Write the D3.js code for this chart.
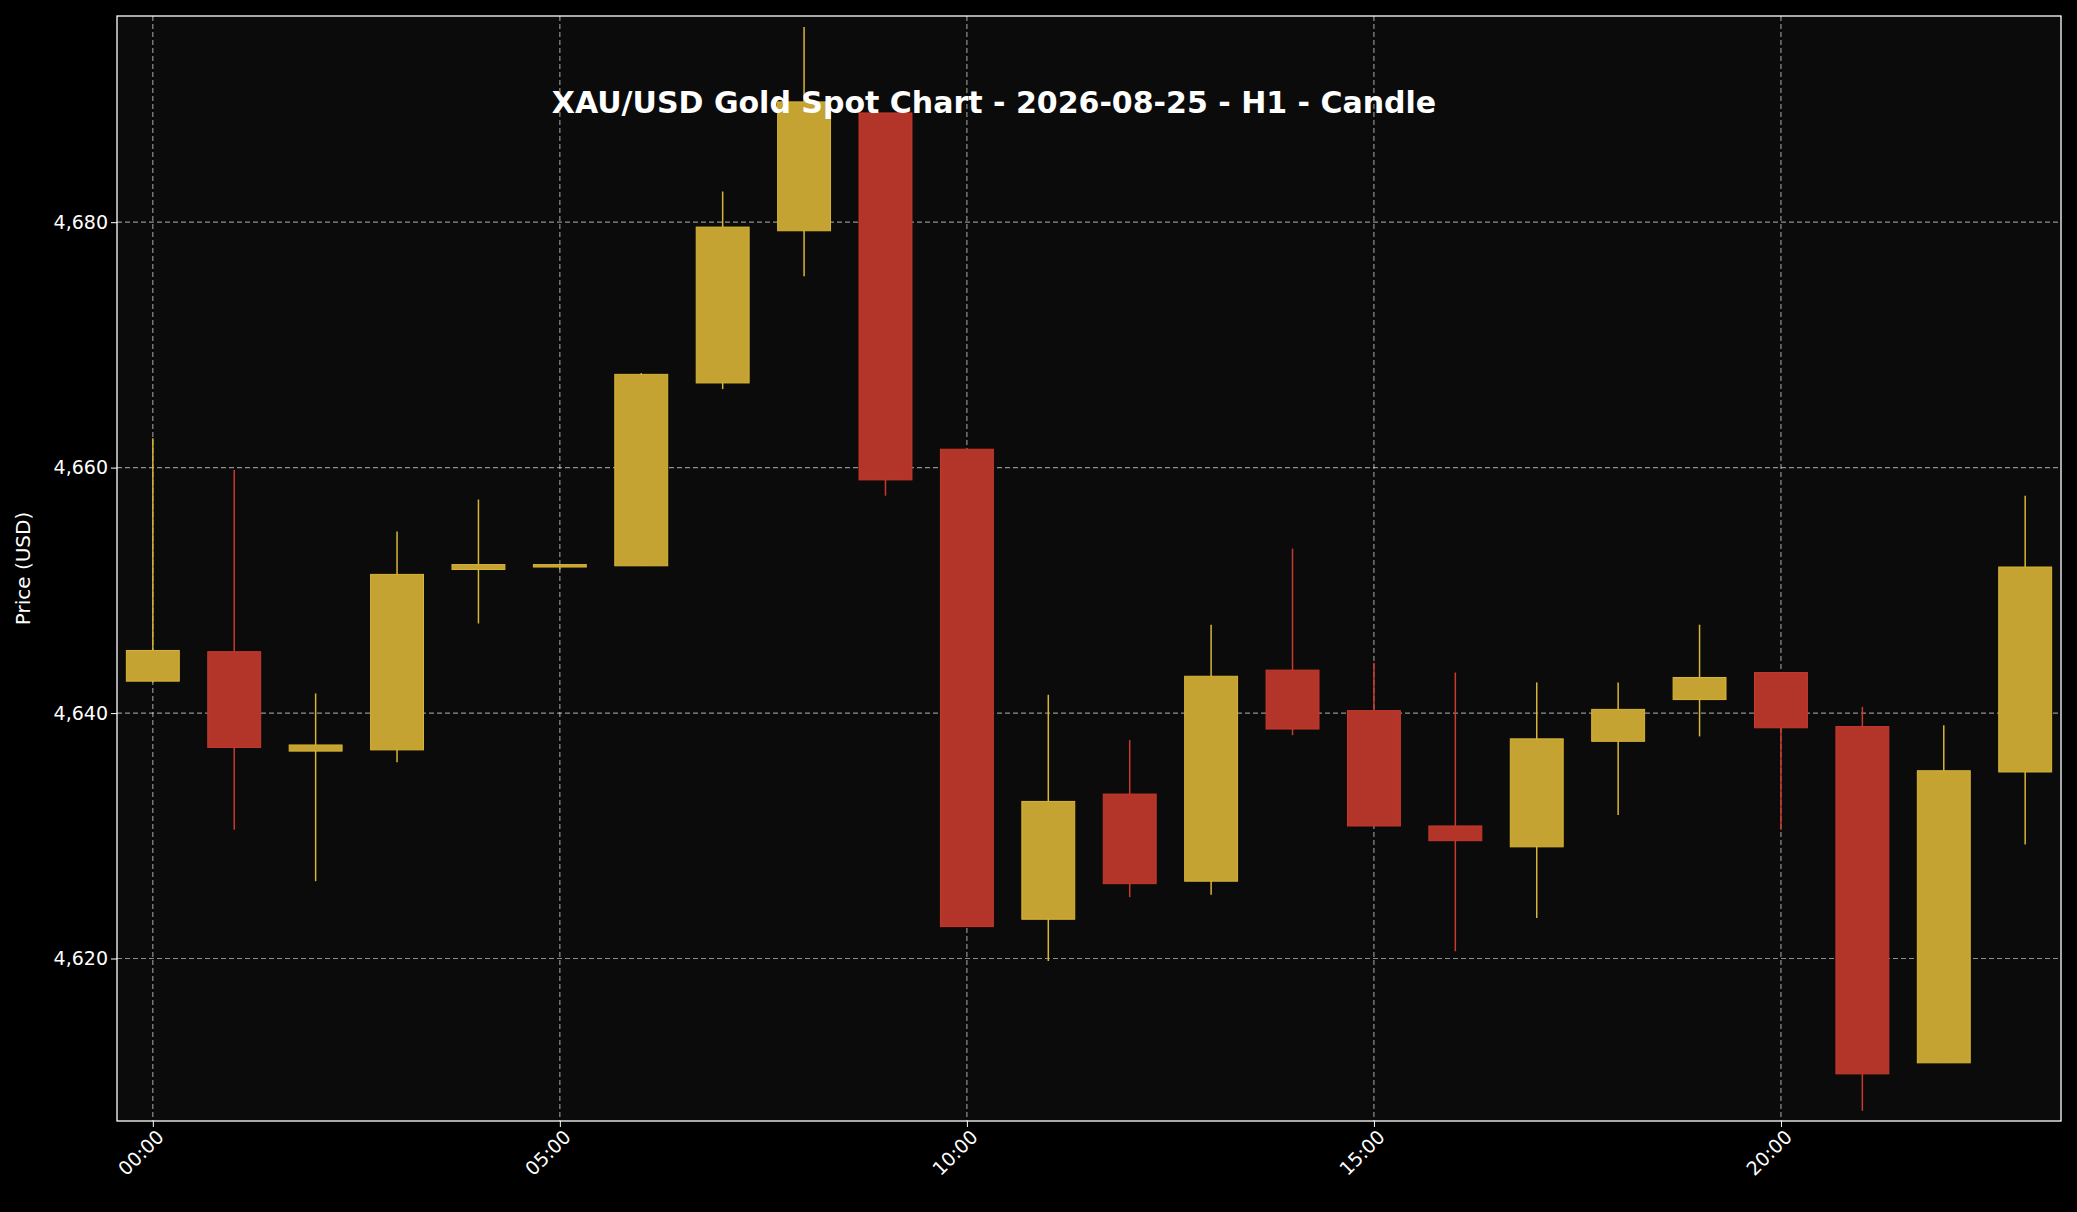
<!DOCTYPE html>
<html>
<head>
<meta charset="utf-8">
<script src="https://cdn.jsdelivr.net/npm/d3@7"></script>
<style>
  body { margin: 0; background: #000; }
  text { font-family: "DejaVu Sans", sans-serif; }
</style>
</head>
<body>
<div id="chart"></div>
<script>
// Hourly candles, 2026-08-25
const hours = d3.range(24);
const opens  = [4642.6, 4645.0, 4636.9, 4637.0, 4651.7, 4651.9, 4652.0, 4666.9, 4679.3, 4688.9, 4661.5, 4623.2,
                4633.4, 4626.3, 4643.5, 4640.2, 4630.8, 4629.1, 4637.7, 4641.1, 4643.3, 4638.9, 4611.5, 4635.2];
const highs  = [4662.4, 4659.8, 4641.6, 4654.8, 4657.4, 4652.1, 4667.7, 4682.5, 4695.9, 4688.9, 4661.5, 4641.5,
                4637.8, 4647.2, 4653.4, 4644.1, 4643.3, 4642.5, 4642.5, 4647.2, 4643.3, 4640.5, 4639.0, 4657.7];
const lows   = [4642.5, 4630.5, 4626.3, 4636.0, 4647.3, 4651.7, 4652.0, 4666.4, 4675.6, 4657.7, 4622.6, 4619.8,
                4625.0, 4625.2, 4638.2, 4630.8, 4620.6, 4623.3, 4631.7, 4638.1, 4630.5, 4607.6, 4611.5, 4629.3];
const closes = [4645.1, 4637.2, 4637.4, 4651.3, 4652.1, 4652.1, 4667.6, 4679.6, 4689.8, 4659.0, 4622.6, 4632.8,
                4626.1, 4643.0, 4638.7, 4630.8, 4629.6, 4637.9, 4640.3, 4642.9, 4638.8, 4610.6, 4635.3, 4651.9];
const xTicks = [0, 5, 10, 15, 20];
const yTicks = [4620, 4640, 4660, 4680];

const width = 2077, height = 1212;
const margin = { top: 16, right: 16, bottom: 91, left: 117 };

const svg = d3.select('#chart').append('svg')
    .attr('width', width).attr('height', height)
    .style('background', '#000');

const x = d3.scaleLinear().domain([-0.44, 23.44]).range([margin.left, width - margin.right]);
const y = d3.scaleLinear().domain([4606.76, 4696.8]).range([height - margin.bottom, margin.top]);

// Axes background
svg.append('rect')
    .attr('x', margin.left).attr('y', margin.top)
    .attr('width', width - margin.left - margin.right)
    .attr('height', height - margin.top - margin.bottom)
    .attr('fill', '#0b0b0b');

// Grid
const grid = svg.append('g').attr('stroke', '#fff').attr('stroke-opacity', 0.55)
    .attr('stroke-dasharray', '5,3').attr('stroke-width', 1.2);
xTicks.forEach(t => grid.append('line')
    .attr('x1', x(t)).attr('x2', x(t)).attr('y1', margin.top).attr('y2', height - margin.bottom));
yTicks.forEach(t => grid.append('line')
    .attr('x1', margin.left).attr('x2', width - margin.right).attr('y1', y(t)).attr('y2', y(t)));

// Candles
const data = hours.map(i => ({ h: i, o: opens[i], hi: highs[i], lo: lows[i], c: closes[i] }));
const gold = '#c4a332', red = '#b3352a';
const bw = x(0.65) - x(0);
const candles = svg.append('g').selectAll('g').data(data).join('g');
candles.append('line')
    .attr('x1', d => x(d.h)).attr('x2', d => x(d.h))
    .attr('y1', d => y(d.hi)).attr('y2', d => y(d.lo))
    .attr('stroke', d => d.c >= d.o ? '#d8b535' : '#c9392c').attr('stroke-width', 1.5);
candles.append('rect')
    .attr('x', d => x(d.h) - bw / 2).attr('width', bw)
    .attr('y', d => y(Math.max(d.o, d.c)))
    .attr('height', d => Math.max(1.5, Math.abs(y(d.o) - y(d.c))))
    .attr('fill', d => d.c >= d.o ? gold : red)
    .attr('stroke', d => d.c >= d.o ? '#d8b535' : '#c9392c').attr('stroke-width', 1);

// Frame
svg.append('rect')
    .attr('x', margin.left).attr('y', margin.top)
    .attr('width', width - margin.left - margin.right)
    .attr('height', height - margin.bottom - margin.top)
    .attr('fill', 'none').attr('stroke', '#fff').attr('stroke-width', 1.3);

// Axes
const xAxis = svg.append('g').attr('transform', `translate(0,${height - margin.bottom})`)
    .call(d3.axisBottom(x).tickValues(xTicks).tickSize(6)
        .tickFormat(d => String(d).padStart(2, '0') + ':00'));
xAxis.selectAll('text')
    .attr('font-size', 19).attr('fill', '#fff')
    .attr('text-anchor', 'end').attr('dx', '-0.2em').attr('dy', '0.6em')
    .attr('transform', 'rotate(-45)');
const yAxis = svg.append('g').attr('transform', `translate(${margin.left},0)`)
    .call(d3.axisLeft(y).tickValues(yTicks).tickSize(6));
yAxis.selectAll('text').attr('font-size', 19).attr('fill', '#fff');
[xAxis, yAxis].forEach(a => {
    a.select('.domain').remove();
    a.selectAll('line').attr('stroke', '#fff');
});

svg.append('text')
    .attr('transform', `translate(30,${(margin.top + height - margin.bottom) / 2}) rotate(-90)`)
    .attr('text-anchor', 'middle').attr('fill', '#fff').attr('font-size', 20)
    .text('Price (USD)');

svg.append('text')
    .attr('x', 994).attr('y', 113)
    .attr('text-anchor', 'middle').attr('fill', '#fff')
    .attr('font-size', 30).attr('font-weight', 'bold')
    .text('XAU/USD Gold Spot Chart - 2026-08-25 - H1 - Candle');
</script>
</body>
</html>
